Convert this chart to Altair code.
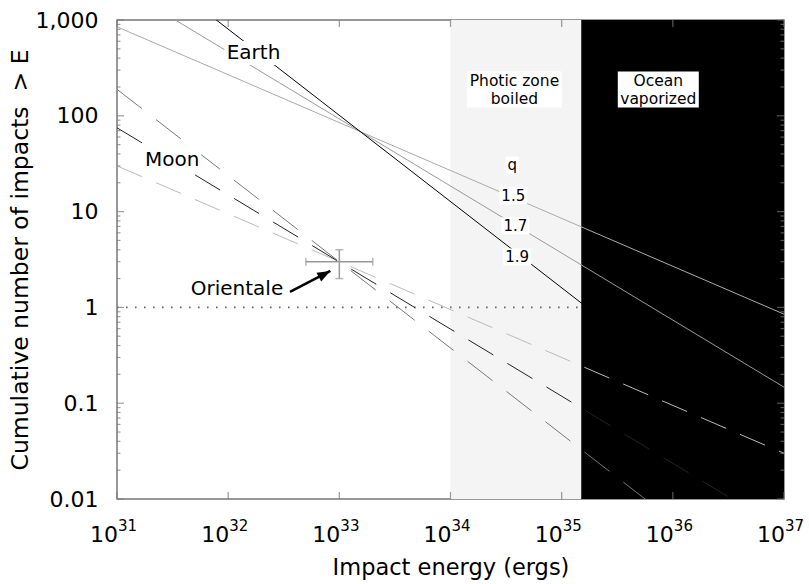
import altair as alt
import pandas as pd

# ---------------- data ----------------
x_exponents = [31, 32, 33, 34, 35, 36, 37]
y_ticks = [0.01, 0.1, 1, 10, 100, 1000]

line_energy = [1e31, 1e37]
earth_q15 = [849, 0.85]
earth_q17 = [2330, 0.147]
earth_q19 = [6380, 0.0254]
moon_q15 = [30, 0.030]
moon_q17 = [75, 0.0047]
moon_q19 = [189, 0.00075]

zone_start = [1e34, 1.5e35]
zone_end = [1.5e35, 1e37]
zone_colors = ["#f4f4f4", "#000000"]

orientale_E = 1e33
orientale_N = 3
orientale_E_range = [5e32, 2e33]
orientale_N_range = [2, 4]

threshold_N = 1
threshold_E_range = [1e31, 1.5e35]

label_text = ["Earth", "Moon"]
label_E = [1.69e32, 3.14e31]
label_N = [453, 34.6]

q_text = ["q", "1.5", "1.7", "1.9"]
q_E = [3.6e34, 3.67e34, 3.83e34, 3.98e34]
q_N = [30.6, 14.6, 7.1, 3.36]

zone_text = ["Photic zone\nboiled", "Ocean\nvaporized"]
zone_text_E = [3.76e34, 7.4e35]
zone_text_N = [188, 188]

orientale_label_E = 1.2e32
orientale_label_N = 1.56
arrow_tail = [3.6e32, 1.45]
arrow_tip = [8.3e32, 2.4]

# ---------------- styling ----------------
FONT = "DejaVu Sans"
AX = "#777777"
xscale = alt.Scale(type="log", domain=[1e31, 1e37], nice=False)
yscale = alt.Scale(type="log", domain=[0.01, 1000], nice=False)

xaxis = alt.Axis(labels=False, ticks=False, domain=False, grid=False,
                 title="Impact energy (ergs)", titleFont=FONT, titleFontSize=22.5,
                 titleFontWeight="normal", titleColor="black", titleY=68,
                 titleBaseline="middle")
yaxis = alt.Axis(values=y_ticks, format=",", labelFont=FONT, labelFontSize=22,
                 labelColor="black", labelPadding=19, ticks=False, domain=False,
                 grid=False, title="Cumulative number of impacts \u00a0> E",
                 titleFont=FONT, titleFontSize=23.5, titleFontWeight="normal",
                 titleColor="black", titleX=-97, titleY=239.5, titleAngle=-90,
                 titleBaseline="middle", titleAlign="center")


def X(f):
    return alt.X(f"{f}:Q", scale=xscale, axis=xaxis)


def Y(f):
    return alt.Y(f"{f}:Q", scale=yscale, axis=yaxis)


layers = []

# zones
zones = pd.DataFrame({"x1": zone_start, "x2": zone_end, "y1": [0.01, 0.01],
                      "y2": [1000, 1000], "c": zone_colors})
layers.append(alt.Chart(zones).mark_rect().encode(
    x=X("x1"), x2="x2", y=Y("y1"), y2="y2",
    color=alt.Color("c:N", scale=None)))

# dotted threshold
thr = pd.DataFrame({"x1": [threshold_E_range[0]], "x2": [threshold_E_range[1]],
                    "y": [threshold_N]})
layers.append(alt.Chart(thr).mark_rule(color="#666", strokeWidth=1.6,
                                       strokeDash=[1.6, 7.4]).encode(
    x=X("x1"), x2="x2", y=Y("y")))

# Earth lines
for vals, col in [(earth_q15, "#aaaaaa"), (earth_q17, "#999999"), (earth_q19, "#000000")]:
    d = pd.DataFrame({"E": line_energy, "N": vals})
    layers.append(alt.Chart(d).mark_line(color=col, strokeWidth=1, clip=True).encode(
        x=X("E"), y=Y("N")))

# Moon lines
for vals, col, dash in [(moon_q15, "#bbbbbb", [27.2, 15.2]),
                        (moon_q17, "#222222", [29.2, 16.4]),
                        (moon_q19, "#777777", [31.6, 17.7])]:
    d = pd.DataFrame({"E": line_energy, "N": vals})
    layers.append(alt.Chart(d).mark_line(color=col, strokeWidth=1, clip=True,
                                         strokeDash=dash).encode(
        x=X("E"), y=Y("N")))

# Orientale error bars
eb_h = pd.DataFrame({"x1": [orientale_E_range[0]], "x2": [orientale_E_range[1]],
                     "y": [orientale_N]})
layers.append(alt.Chart(eb_h).mark_rule(color="#999", strokeWidth=1.5).encode(
    x=X("x1"), x2="x2", y=Y("y")))
eb_v = pd.DataFrame({"x": [orientale_E], "y1": [orientale_N_range[0]],
                     "y2": [orientale_N_range[1]]})
layers.append(alt.Chart(eb_v).mark_rule(color="#999", strokeWidth=1.5).encode(
    x=X("x"), y=Y("y1"), y2="y2"))
caps_v = pd.DataFrame({"x": orientale_E_range, "y": [orientale_N] * 2})
layers.append(alt.Chart(caps_v).mark_tick(orient="vertical", size=8, thickness=1.5,
                                          color="#999").encode(x=X("x"), y=Y("y")))
caps_h = pd.DataFrame({"x": [orientale_E] * 2, "y": orientale_N_range})
layers.append(alt.Chart(caps_h).mark_tick(orient="horizontal", size=8, thickness=1.5,
                                          color="#999").encode(x=X("x"), y=Y("y")))


# white label boxes
def box(w, h):
    return f"M{-w/2},{-h/2}H{w/2}V{h/2}H{-w/2}Z"


boxes = pd.DataFrame({
    "E": label_E + q_E + zone_text_E,
    "N": label_N + q_N + zone_text_N,
    "shape": [box(58, 24), box(58, 22), box(13, 17), box(28, 17), box(28, 17),
              box(28, 17), box(95, 36), box(81, 36)],
})
layers.append(alt.Chart(boxes).mark_point(filled=True, opacity=1, color="white",
                                          strokeWidth=0, size=4).encode(
    x=X("E"), y=Y("N"), shape=alt.Shape("shape:N", scale=None)))

# labels
lab = pd.DataFrame({"E": label_E, "N": label_N, "t": label_text})
layers.append(alt.Chart(lab).mark_text(font=FONT, fontSize=20, color="black",
                                       baseline="middle", align="center").encode(
    x=X("E"), y=Y("N"), text="t:N"))
ql = pd.DataFrame({"E": q_E, "N": q_N, "t": q_text})
layers.append(alt.Chart(ql).mark_text(font=FONT, fontSize=15, color="black",
                                      baseline="middle", align="center").encode(
    x=X("E"), y=Y("N"), text="t:N"))
zl = pd.DataFrame({"E": zone_text_E, "N": zone_text_N, "t": zone_text})
layers.append(alt.Chart(zl).mark_text(font=FONT, fontSize=15.5, color="black",
                                      baseline="middle", align="center",
                                      lineBreak="\n", lineHeight=18, dy=-9).encode(
    x=X("E"), y=Y("N"), text="t:N"))
ol = pd.DataFrame({"E": [orientale_label_E], "N": [orientale_label_N], "t": ["Orientale"]})
layers.append(alt.Chart(ol).mark_text(font=FONT, fontSize=20, color="black",
                                      baseline="middle", align="center").encode(
    x=X("E"), y=Y("N"), text="t:N"))

# arrow
arr = pd.DataFrame({"x1": [arrow_tail[0]], "y1": [arrow_tail[1]],
                    "x2": [arrow_tip[0]], "y2": [arrow_tip[1]]})
layers.append(alt.Chart(arr).mark_rule(color="black", strokeWidth=2.5).encode(
    x=X("x1"), y=Y("y1"), x2="x2", y2="y2"))
head = pd.DataFrame({"x": [arrow_tip[0]], "y": [arrow_tip[1]]})
layers.append(alt.Chart(head).mark_point(filled=True, opacity=1, color="black",
                                         size=4, angle=62,
                                         shape="M0,0L-5,13L5,13Z").encode(
    x=X("x"), y=Y("y")))

# frame ticks
xt = pd.DataFrame({"E": [10.0 ** e for e in x_exponents],
                   "lo": [0.01] * len(x_exponents), "hi": [1000] * len(x_exponents)})
layers.append(alt.Chart(xt).mark_tick(orient="vertical", size=7, thickness=1.3,
                                      color=AX, yOffset=-3.5).encode(x=X("E"), y=Y("lo")))
layers.append(alt.Chart(xt).mark_tick(orient="vertical", size=7, thickness=1.3,
                                      color=AX, yOffset=3.5).encode(x=X("E"), y=Y("hi")))

major_y = y_ticks
minor_y = [m * d for d in y_ticks[:-1] for m in range(2, 10)]
for vals, size in [(major_y, 7), (minor_y, 3.5)]:
    d = pd.DataFrame({"N": vals, "lo": [1e31] * len(vals), "hi": [1e37] * len(vals)})
    layers.append(alt.Chart(d).mark_tick(orient="horizontal", size=size, thickness=1.2,
                                         color=AX, xOffset=size / 2).encode(
        x=X("lo"), y=Y("N")))
    layers.append(alt.Chart(d).mark_tick(orient="horizontal", size=size, thickness=1.2,
                                         color=AX, xOffset=-size / 2).encode(
        x=X("hi"), y=Y("N")))

# x tick labels with superscript exponents
xl = pd.DataFrame({"E": [10.0 ** e for e in x_exponents],
                   "y": [0.01] * len(x_exponents),
                   "base": ["10"] * len(x_exponents),
                   "exp": [str(e) for e in x_exponents]})
layers.append(alt.Chart(xl).mark_text(font=FONT, fontSize=22, color="black",
                                      align="right", baseline="alphabetic", dy=43,
                                      dx=1).encode(x=X("E"), y=Y("y"), text="base:N"))
layers.append(alt.Chart(xl).mark_text(font=FONT, fontSize=15, color="black",
                                      align="left", baseline="alphabetic", dy=32,
                                      dx=1).encode(x=X("E"), y=Y("y"), text="exp:N"))

chart = alt.layer(*layers).properties(
    width=667, height=479,
    autosize=alt.AutoSizeParams(type="none"),
    padding={"left": 117, "top": 20, "right": 25, "bottom": 85},
    background="white",
).configure_view(stroke=AX, strokeWidth=1.5)

chart.save("out.html", embed_options={"renderer": "svg", "actions": False})
